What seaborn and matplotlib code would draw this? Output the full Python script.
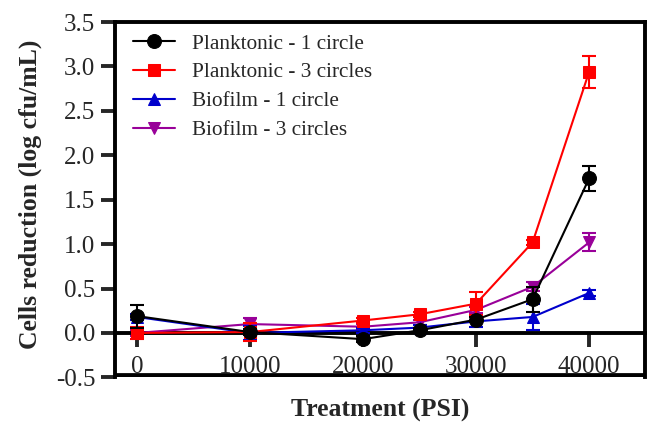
import numpy as np
import pandas as pd
import seaborn as sns
import matplotlib
matplotlib.use("Agg")
import matplotlib.pyplot as plt

# ======================
# DATA
# ======================
psi = [0, 10000, 20000, 25000, 30000, 35000, 40000]

plank_1 = [0.19, 0.01, -0.07, 0.03, 0.15, 0.38, 1.74]
plank_1_err = [0.13, 0.03, 0.03, 0.03, 0.03, 0.14, 0.14]

plank_3 = [0.00, 0.01, 0.14, 0.21, 0.33, 1.02, 2.94]
plank_3_err = [0.07, 0.10, 0.03, 0.03, 0.13, 0.03, 0.18]

bio_1 = [0.18, 0.00, 0.03, 0.06, 0.13, 0.18, 0.45]
bio_1_err = [0.03, 0.08, 0.03, 0.03, 0.06, 0.15, 0.03]

bio_3 = [0.00, 0.10, 0.07, 0.12, 0.26, 0.52, 1.02]
bio_3_err = [0.03, 0.07, 0.03, 0.03, 0.03, 0.05, 0.10]

labels = ["Planktonic - 1 circle", "Planktonic - 3 circles",
          "Biofilm - 1 circle", "Biofilm - 3 circles"]
colors = ["#000000", "#FF0000", "#0000CC", "#990099"]
markers = ["o", "s", "^", "v"]
sizes = [10, 9, 9, 9]
zorders = [6, 5, 4, 3]

series = [(plank_1, plank_1_err), (plank_3, plank_3_err),
          (bio_1, bio_1_err), (bio_3, bio_3_err)]

# ======================
# PLOT
# ======================
sns.set_style("ticks")
plt.rcParams["font.family"] = ["Liberation Serif", "DejaVu Serif"]

fig = plt.figure(figsize=(6.49, 4.24), dpi=100)
ax = fig.add_axes([0.177, 0.11, 0.817, 0.838])

for (vals, errs), lab, c, m, s, z in zip(series, labels, colors, markers, sizes, zorders):
    df = pd.DataFrame({"psi": psi, "val": vals})
    sns.lineplot(data=df, x="psi", y="val", ax=ax, color=c, marker=m,
                 markersize=s, markeredgecolor=c, linewidth=1.5,
                 label=lab, zorder=z)
    ax.errorbar(psi, vals, yerr=errs, fmt="none", ecolor=c, elinewidth=1.5,
                capsize=5, capthick=1.5, zorder=z)

ax.set_xlim(-1950, 44950)
ax.set_ylim(-0.5, 3.5)
ax.set_xticks([0, 10000, 20000, 30000, 40000])
ax.set_yticks(np.arange(-0.5, 3.51, 0.5))
ax.yaxis.set_major_formatter(matplotlib.ticker.FormatStrFormatter("%.1f"))

# x axis sits at y = 0, box closed at the bottom
ax.spines["bottom"].set_position(("data", 0))
for sp in ax.spines.values():
    sp.set_linewidth(2.8)
    sp.set_color("black")
ax.axhline(-0.5, color="black", lw=5.6, clip_on=True, zorder=10)

ax.tick_params(axis="y", direction="out", length=10, width=2.8, labelsize=18, pad=4)
ax.tick_params(axis="x", direction="out", length=10, width=2.8, labelsize=18, pad=6.5)

ax.set_xlabel("Treatment (PSI)", fontsize=18.5, fontweight="bold")
ax.set_ylabel("Cells reduction (log cfu/mL)", fontsize=18.5, fontweight="bold")
ax.xaxis.set_label_coords(0.5, -0.06)
ax.yaxis.set_label_coords(-0.138, 0.516)

ax.legend(loc="upper left", bbox_to_anchor=(0.012, 1.0), frameon=False,
          fontsize=15.3, handlelength=2.0, borderaxespad=0.25,
          labelspacing=0.42, handletextpad=0.8, borderpad=0.3)

fig.savefig("out.png", dpi=100)
